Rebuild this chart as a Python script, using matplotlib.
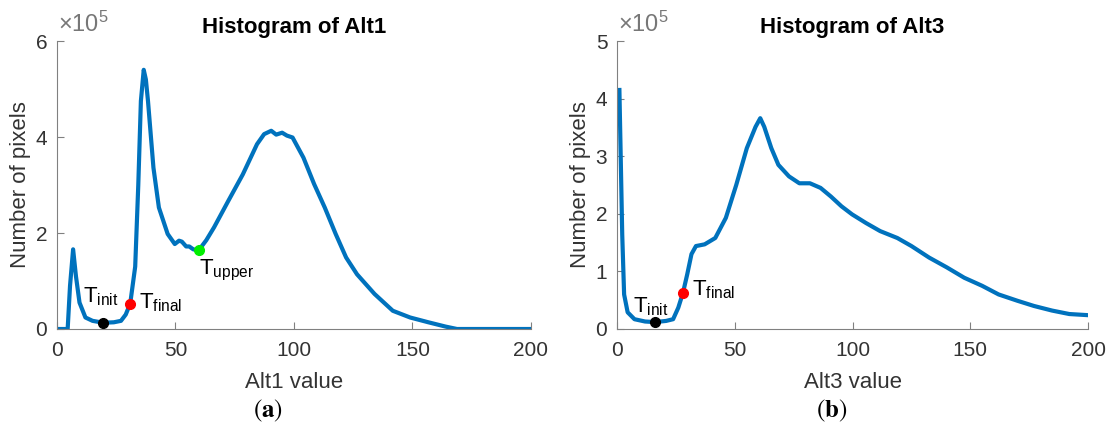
import numpy as np
import matplotlib
matplotlib.use('Agg')
from matplotlib import pyplot as plt

plt.rcParams['font.family'] = ['Liberation Sans', 'DejaVu Sans']
plt.rcParams['mathtext.fontset'] = 'custom'
plt.rcParams['mathtext.rm'] = 'Liberation Sans'
plt.rcParams['mathtext.it'] = 'Liberation Sans:italic'

# histogram of Alt1 (counts in units of 1e5)
alt1_x = [0, 1, 4.5, 5.5, 6.8, 8, 9.5, 12, 15, 19.6, 24, 27, 29, 30.9, 33, 34.3, 35.4, 36.6,
          37.5, 38.4, 40.7, 43, 46.7, 49.7, 51.5, 52.7, 54.5, 55.8, 57.5, 59.8, 63, 66.3,
          72.3, 78.4, 84.4, 87.4, 90.4, 92.5, 95, 97, 99.4, 104, 108.5, 113, 117.6, 122,
          126.6, 134, 141.7, 149, 156.7, 164, 168.8, 175, 185, 200]
alt1_y = [0, 0, 0, 0.9, 1.66, 1.1, 0.55, 0.24, 0.17, 0.13, 0.14, 0.17, 0.3, 0.53, 1.3, 3.0,
          4.75, 5.4, 5.2, 4.75, 3.36, 2.53, 1.98, 1.77, 1.84, 1.82, 1.72, 1.72, 1.66, 1.64,
          1.85, 2.12, 2.67, 3.22, 3.85, 4.06, 4.13, 4.05, 4.09, 4.03, 3.99, 3.57, 3.02,
          2.53, 1.98, 1.49, 1.14, 0.73, 0.38, 0.24, 0.14, 0.05, 0.0, 0, 0, 0]

# histogram of Alt3
alt3_x = [1, 2.2, 3, 4.5, 7.4, 11.9, 16, 20.8, 23.8, 26, 28, 29.8, 31.6, 33.5, 37.2, 41.7,
          46.2, 50.6, 55.1, 58.8, 60.8, 62.5, 65.5, 68.5, 73, 77.4, 81.9, 86.4, 90.8, 95.3,
          99.8, 105.7, 111.7, 119, 125, 132.5, 140, 147.4, 155, 162, 170, 177, 184.7, 192, 200]
alt3_y = [4.15, 1.64, 0.6, 0.29, 0.17, 0.13, 0.12, 0.14, 0.17, 0.37, 0.63, 0.95, 1.3, 1.44,
          1.47, 1.58, 1.93, 2.5, 3.14, 3.51, 3.66, 3.51, 3.14, 2.85, 2.65, 2.53, 2.53, 2.45,
          2.3, 2.13, 1.99, 1.84, 1.7, 1.58, 1.44, 1.24, 1.07, 0.89, 0.75, 0.6, 0.49, 0.4,
          0.32, 0.26, 0.24]

# threshold points: (x, y, colour, label, label x, label y)
alt1_pts = [(19.6, 0.13, 'black', 'init', 11, 0.55),
            (30.9, 0.53, 'red', 'final', 34.4, 0.42),
            (59.8, 1.64, '#00ee00', 'upper', 59.8, 1.14)]
alt3_pts = [(16, 0.13, 'black', 'init', 6.7, 0.29),
            (28, 0.63, 'red', 'final', 32, 0.58)]

panels = [
    dict(x=alt1_x, y=alt1_y, pts=alt1_pts, name='Alt1', ymax=6, tag='a',
         rect=[0.0513, 0.2277, 0.4266, 0.676], cap_x=0.241),
    dict(x=alt3_x, y=alt3_y, pts=alt3_pts, name='Alt3', ymax=5, tag='b',
         rect=[0.5554, 0.2277, 0.424, 0.676], cap_x=0.749),
]

fig = plt.figure(figsize=(11.11, 4.26), dpi=100)
grey = '#808080'
dark = '#333333'

for p in panels:
    ax = fig.add_axes(p['rect'])
    ax.plot(p['x'], p['y'], color='#0072BD', lw=3)
    for (px, py, c, lab, tx, ty) in p['pts']:
        ax.plot(px, py, 'o', color=c, ms=7, zorder=3)
        ax.text(tx, ty, r'T$_{\mathrm{%s}}$' % lab, fontsize=16, color='black')
    ax.set_xlim(0, 200)
    ax.set_ylim(0, p['ymax'])
    ax.set_xticks([0, 50, 100, 150, 200])
    ax.set_yticks(range(0, p['ymax'] + 1, 1 if p['ymax'] == 5 else 2))
    for s in ['top', 'right']:
        ax.spines[s].set_visible(False)
    for s in ['left', 'bottom']:
        ax.spines[s].set_color(grey)
    ax.tick_params(direction='in', length=5, color=grey, labelcolor=dark,
                   labelsize=15, pad=9)
    ax.tick_params(axis='y', pad=7)
    ax.set_xlabel(p['name'] + ' value', fontsize=16, color=dark, labelpad=8)
    ax.set_ylabel('Number of pixels', fontsize=16, color=dark, labelpad=3)
    ax.set_title('Histogram of ' + p['name'], fontsize=16, fontweight='bold', pad=6)
    ax.text(0.002, 1.015, r'$\times10^{5}$', transform=ax.transAxes, fontsize=17,
            color='#777777', ha='left', va='bottom')
    fig.text(p['cap_x'], 0.035, r'$(\mathbf{%s})$' % p['tag'], ha='center', va='center',
             fontsize=18, math_fontfamily='stix')

plt.savefig('out.png', dpi=100)
